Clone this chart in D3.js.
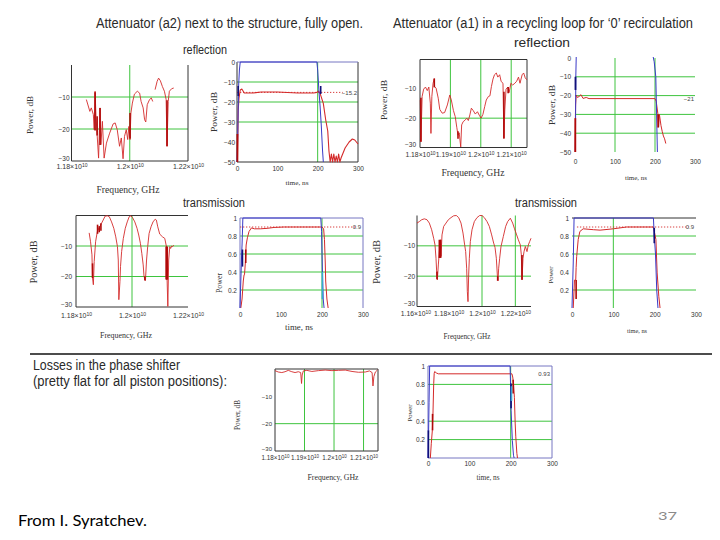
<!DOCTYPE html>
<html>
<head>
<meta charset="utf-8">
<script src="https://cdn.jsdelivr.net/npm/d3@7/dist/d3.min.js"></script>
<style>
html,body{margin:0;padding:0;background:#fff;}
svg{display:block;}
</style>
</head>
<body>
<svg id="chart" width="720" height="540"></svg>
<script>
// ================= DATA =================
const titleLeft = "Attenuator (a2) next to the structure, fully open.";
const titleRight = "Attenuator (a1) in a recycling loop for \u20180\u2019 recirculation";
const headReflection = "reflection";
const headTransmission = "transmission";
const lossesLine1 = "Losses in the phase shifter";
const lossesLine2 = "(pretty flat for all piston positions):";
const footerSource = "From I. Syratchev.";
const pageNumber = "37";

// tick values / labels
const freqTicksA = [11.8, 12.0, 12.2];
const freqLabelsA = ["1.18\u00d710^10", "1.2\u00d710^10", "1.22\u00d710^10"];
const freqTicksB = [11.8, 11.9, 12.0, 12.1];
const freqLabelsB = ["1.18\u00d710^10", "1.19\u00d710^10", "1.2\u00d710^10", "1.21\u00d710^10"];
const freqTicksC = [11.6, 11.8, 12.0, 12.2];
const freqLabelsC = ["1.16\u00d710^10", "1.18\u00d710^10", "1.2\u00d710^10", "1.22\u00d710^10"];
const timeTicks = [0, 100, 200, 300];
const timeLabels = ["0", "100", "200", "300"];
const dbTicks30 = [-10, -20, -30];
const dbLabels30 = ["\u221210", "\u221220", "\u221230"];
const dbTicks50 = [0, -10, -20, -30, -40, -50];
const dbLabels50 = ["0", "\u221210", "\u221220", "\u221230", "\u221240", "\u221250"];
const linTicks = [1, 0.8, 0.6, 0.4, 0.2];
const linLabels = ["1", "0.8", "0.6", "0.4", "0.2"];

// (1) a2 reflection vs frequency
const a2ReflFreqGHz = [11.851,11.863,11.868,11.875,11.878,11.881,11.884,11.888,11.893,11.898,11.901,11.906,11.912,11.920,11.931,11.943,11.950,11.957,11.965,11.971,11.977,11.982,11.988,11.993,11.997,12.001,12.004,12.009,12.016,12.026,12.034,12.039,12.046,12.051,12.055,12.060,12.068,12.074,12.079,12.083,12.087,12.094,12.099,12.105,12.112,12.119,12.125,12.128,12.132,12.136,12.144,12.151];
const a2ReflFreqDb = [-10.8,-14.5,-13.4,-15.5,-20.2,-8.2,-16.0,-21.8,-29.1,-13.4,-24.9,-17.6,-29.1,-24.4,-21.3,-18.4,-18.1,-20.2,-25.4,-22.8,-29.3,-22.3,-20.2,-23.3,-19.2,-23.3,-15.0,-11.9,-9.1,-8.2,-8.8,-11.4,-13.4,-17.1,-17.8,-12.4,-10.8,-10.3,-11.4,null,-7.7,-5.1,-4.1,-4.9,-6.7,-8.2,-10.8,-25.4,-11.4,-8.2,-7.4,-7.2];
const a2ReflFreqSpikes = [[11.881,-8.5,-20.5],[11.898,-13.4,-25],[11.888,-16,-22],[12.001,-15,-23],[12.128,-11,-25.4]];

// (2) a2 reflection vs time
const a2ReflTimeNs = [1,2,3,5,8,12,18,40,60,100,150,190,198,202,206,214,220,225,228,231,234,237,240,243,246,249,252,255,258,262,268,278,286,292,300];
const a2ReflTimeDb = [-50,-40,-24,-18,-14,-13.5,-15.5,-15.5,-15,-15,-15.5,-15.5,-15.2,-14.5,-15.7,-20.7,-29,-34.5,-44.5,-50,-46,-50,-46,-50,-47,-50,-46,-50,-48,-46,-43,-40,-38.5,-39,-41];
const a2ReflPulseNs = [0,2,4,6,8,198,200,203,206,209,212,214];
const a2ReflPulseDb = [-50,-35,-12,-4,0,0,-4,-14,-22,-32,-44,-50];
const a2ReflDarkRed = [[1,-50,-36]];
const a2ReflDarkBlue = [[3,-17,-12],[207.5,-16,-12]];
const a2ReflLevel = -15.2;
const a2ReflLevelLabel = "\u221215.2";

// (3) a1 reflection vs frequency
const a1ReflFreqGHz = [11.801,11.803,11.807,11.812,11.818,11.824,11.829,11.834,11.836,11.839,11.843,11.847,11.848,11.853,11.860,11.865,11.873,11.881,11.890,11.898,11.903,11.910,11.916,11.921,11.925,11.929,11.934,11.937,11.942,11.949,11.954,11.959,11.964,11.969,11.975,11.982,11.989,11.995,12.001,12.007,12.013,12.018,12.025,12.030,12.035,12.040,12.045,12.051,12.056,12.062,12.067,12.073,12.076,12.079,12.083,12.089,12.093,12.099,12.105,12.112,12.118,12.124,12.129,12.136,12.141,12.146,12.151];
const a1ReflFreqDb = [-13.8,-28.0,-12.6,-10.1,-9.4,-10.6,-9.4,-14.9,-25.2,-12.6,-8.1,-6.5,-9.2,-9.8,-13.2,-17.0,-18.3,-18.1,-15.5,-12.1,-13.8,-17.4,-19.5,-23.1,-25.8,-25.0,-29.8,-22.3,-21.2,-20.6,-20.0,-20.8,-18.9,-16.6,-17.4,-18.6,-17.8,-19.0,-20.0,-18.7,-16.0,-13.8,-12.6,-12.4,-9.2,-6.7,-5.2,-4.6,-6.0,-5.2,-7.5,-8.1,-26.9,-17.2,-10.1,-9.4,-11.3,-8.1,-8.7,-8.1,-7.4,-6.0,-8.1,-5.2,-4.6,-6.2,-6.9];
const a1ReflFreqSpikes = [[11.803,-13,-28],[11.847,-6.5,-9.5],[11.925,-24.5,-27],[12.076,-11,-26.9],[12.090,-9.4,-11.5]];

// (4) a1 reflection vs time
const a1ReflTimeNs = [0,1,1.5,3,6,10,15,20,28,35,100,200,203,207,209,211,213,215,218,221,224,227];
const a1ReflTimeDb = [-50,-32,-25,-19.7,-21,-20.5,-19.5,-21.5,-21,-21.6,-21.6,-21.6,-23,-29.4,-36.5,-30,-33,-36,-39,-41.5,-43,-45.5];
const a1ReflPulseNs = [1,2,3.5,194,198,202,204,206];
const a1ReflPulseDb = [-50,-10,5,2,-2,-10,-30,-50];
const a1ReflDarkRed = [[0.8,-50,-32],[208,-30,-37]];
const a1ReflDarkBlue = [[1.2,-17,-10]];
const a1ReflLevel = -21.6;
const a1ReflLevelLabel = "\u221221";

// (5) a2 transmission vs frequency
const a2TransFreqGHz = [11.847,11.852,11.857,11.859,11.862,11.865,11.870,11.874,11.877,11.885,11.891,11.897,11.904,11.912,11.919,11.927,11.935,11.942,11.948,11.951,11.953,11.957,11.959,11.963,11.969,11.976,11.983,11.990,11.996,12.002,12.010,12.018,12.024,12.030,12.035,12.040,12.043,12.048,12.052,12.056,12.061,12.068,12.075,12.083,12.087,12.092,12.099,12.109,12.117,12.123,12.125,12.128,12.131,12.135,12.138,12.142,12.145,12.149];
const a2TransFreqDb = [-5.7,-8.6,-12.9,-20.5,-22.7,-15.1,-8.6,-6.4,-5.0,-3.7,-2.6,-1.5,-0.2,-0.1,-0.4,-2.1,-4.2,-7.0,-10.2,-14.6,-27.6,-21.6,-16.7,-11.8,-7.5,-4.2,-2.1,-0.4,-0.1,-0.7,-2.1,-4.2,-6.4,-9.1,-12.4,-16.2,-20.0,-21.3,-14.6,-10.2,-5.9,-3.7,-2.1,-1.2,-1.5,-3.7,-6.1,-7.0,-7.5,-10.2,-20.0,-29.8,-14.6,-10.2,-10.8,-10.0,-10.2,-9.7];
const a2TransFreqSpikes = [[11.859,-15.7,-20.5],[11.877,-3,-6],[11.883,-3.5,-5.5],[11.889,-2.5,-5],[12.046,-20,-21.3],[12.122,-10.2,-21],[12.124,-10.2,-21],[12.126,-10.2,-21]];

// (6) a2 transmission vs time
const a2TransTimeNs = [2,5,8,10,11,13,15,18,22,28,35,50,66,83,107,200,204,206,208,209,212,215];
const a2TransTimePow = [0,0.1,0.3,0.37,0.37,0.5,0.7,0.78,0.85,0.89,0.88,0.88,0.885,0.895,0.9,0.9,0.88,0.76,0.5,0.3,0.1,0];
const a2TransPulseNs = [0,2,4,5,7,197,199,201,203,205];
const a2TransPulsePow = [0,0.3,0.6,0.7,1,1,0.85,0.4,0.1,0];
const a2TransDarkRed = [[14,0.5,0.65]];
const a2TransDarkBlue = [[6,0.46,0.65]];
const a2TransCyan = [[201,0.1,0.4]];
const a2TransLevel = 0.9;
const a2TransLevelLabel = "0.9";

// (7) a1 transmission vs frequency
const a1TransFreqGHz = [11.610,11.624,11.638,11.654,11.670,11.684,11.698,11.710,11.718,11.724,11.728,11.732,11.738,11.744,11.750,11.754,11.760,11.770,11.784,11.798,11.814,11.830,11.846,11.860,11.874,11.886,11.896,11.902,11.908,11.912,11.916,11.920,11.924,11.930,11.940,11.954,11.970,11.986,12.000,12.014,12.030,12.044,12.058,12.070,12.078,12.086,12.092,12.096,12.100,12.106,12.114,12.128,12.142,12.154,12.170,12.184,12.194,12.208,12.218,12.230,12.236,12.240,12.246,12.252,12.260,12.270,12.278,12.286,12.294];
const a1TransFreqDb = [-2.5,-2.0,-1.4,-1.1,-1.4,-2.5,-4.7,-7.5,-9.7,-14.1,-18.5,-21.2,-16.3,-11.9,-8.0,-13.5,-6.4,-3.6,-2.5,-1.4,-0.7,-0.1,0,-0.7,-2.5,-5.8,-9.7,-11.9,-17.4,-25.1,-28.4,-19.6,-14.1,-8.6,-4.7,-2.0,-0.7,0,0,-0.7,-2.0,-3.6,-6.4,-9.1,-10.5,-14.1,-19.6,-21.5,-17.4,-14.1,-10.2,-6.9,-3.6,-2.0,-0.9,-2.5,-4.2,-6.4,-8.0,-9.7,-13.0,-21.2,-14.1,-11.9,-10.2,-11.9,-9.7,-8.6,-7.5];
const a1TransFreqSpikes = [[11.744,-8,-14],[11.752,-8,-14],[11.730,-18.5,-21],[12.094,-20,-21.5],[12.240,-13,-21.2]];

// (8) a1 transmission vs time
const a1TransTimeNs = [3,5,6,9,10,11.3,15,19,27,52,68,100,132,197,203,206,210,213];
const a1TransTimePow = [0,0.2,0.31,0.31,0.45,0.57,0.76,0.85,0.88,0.87,0.865,0.88,0.9,0.9,0.76,0.39,0.13,0];
const a1TransPulseNs = [0,3,5,197,199,202,205,208];
const a1TransPulsePow = [0,0.5,1,1,0.8,0.6,0.2,0];
const a1TransDarkRed = [[10,0.1,0.31]];
const a1TransDarkBlue = [[199,0.72,0.89]];
const a1TransLevel = 0.9;
const a1TransLevelLabel = "0.9";

// (9) phase shifter losses vs frequency
const shifterFreqGHz = [11.800,11.811,11.823,11.834,11.845,11.857,11.868,11.879,11.887,11.890,11.892,11.896,11.908,11.925,11.947,11.970,11.993,12.015,12.038,12.061,12.083,12.106,12.120,12.129,12.132,12.135,12.140,12.147];
const shifterFreqDb = [-0.6,-1.1,-1.3,-1.0,-0.5,-1.0,-1.3,-1.0,-1.3,-5.3,-2.2,-0.7,-0.5,-0.9,-0.6,-0.4,-0.6,-0.5,-0.4,-0.9,-1.2,-1.1,-0.7,-1.3,-6.2,-2.8,-1.1,-0.4];

// (10) phase shifter vs time
const shifterTimeNs = [5.7,8,10.5,12,13.8,15,16.2,20,25,200,203,205,207,209,211,212.4,215,216.5];
const shifterTimePow = [0,0.16,0.3,0.48,0.81,0.92,0.94,0.925,0.915,0.915,0.915,0.88,0.81,0.66,0.37,0.23,0.05,0];
const shifterPulseNs = [0,1.5,2.5,4,198.6,200,201,204,206.8,208.4];
const shifterPulsePow = [0,0.3,0.6,1,1,0.75,0.52,0.19,0.03,0];
const shifterDarkRed = [[11,0.3,0.48],[206,0.7,0.85]];
const shifterDarkBlue = [[1,0,0.3],[201,0.54,0.81]];
const shifterCyan = [[202,0.62,0.78]];
const shifterLevel = 0.915;
const shifterLevelLabel = "0.93";

// ================= DRAWING =================
const RED = "#d42a2a", DARKRED = "#b00a0a", BLUE = "#3a3ac8", DARKBLUE = "#10107a",
      CYAN = "#3aa6d4", GREEN = "#3ec43e", INK = "#333", PFRAME = "#7777c2";

const svg = d3.select("#chart");
svg.append("rect").attr("width", 720).attr("height", 540).attr("fill", "#fff");
const defs = svg.append("defs");

function supLabel(sel, str, supSize) {
  const parts = String(str).split("^");
  sel.text(null);
  sel.append("tspan").text(parts[0]);
  if (parts.length > 1) sel.append("tspan").attr("dy", "-0.45em").attr("font-size", supSize).text(parts[1]);
}

function panel(c) {
  const [L, R, T, B] = c.box;
  const x = d3.scaleLinear().domain(c.xDomain).range([L, R]);
  const y = d3.scaleLinear().domain(c.yDomain).range([B, T]);
  const g = svg.append("g").attr("class", "panel-" + c.id);
  const cid = "clip-" + c.id;
  defs.append("clipPath").attr("id", cid).append("rect")
    .attr("x", L - 1).attr("y", T - 1).attr("width", R - L + 2).attr("height", B - T + 2);

  g.append("g").selectAll("line").data(c.hGrid).join("line")
    .attr("x1", L).attr("x2", R).attr("y1", d => y(d)).attr("y2", d => y(d))
    .attr("stroke", GREEN).attr("stroke-width", 1);
  g.append("g").selectAll("line").data(c.vGrid).join("line")
    .attr("x1", d => x(d)).attr("x2", d => x(d)).attr("y1", T).attr("y2", B)
    .attr("stroke", GREEN).attr("stroke-width", 1);

  const sides = {left: [L, T, L, B], right: [R, T, R, B], top: [L, T, R, T], bottom: [L, B, R, B]};
  Object.entries(c.frame || {}).forEach(([k, col]) => {
    const s = sides[k];
    g.append("line").attr("x1", s[0]).attr("y1", s[1]).attr("x2", s[2]).attr("y2", s[3])
      .attr("stroke", col).attr("stroke-width", 1);
  });

  if (c.ref) {
    if (c.ref.dotted) {
      g.append("line").attr("x1", x(c.ref.from)).attr("x2", x(c.ref.to))
        .attr("y1", y(c.ref.value)).attr("y2", y(c.ref.value))
        .attr("stroke", RED).attr("stroke-width", 0.9).attr("stroke-dasharray", "1.3,1.7");
    }
    g.append("text").attr("x", c.ref.lx).attr("y", y(c.ref.value) + 2.2)
      .attr("font-family", "Liberation Sans").attr("font-size", 6).attr("fill", "#444")
      .attr("text-anchor", "end").text(c.ref.label);
  }

  const line = d3.line()
    .defined(d => d[1] !== null && !isNaN(d[1]))
    .x(d => x(d[0])).y(d => y(d[1]));
  (c.series || []).forEach(s => {
    g.append("path").attr("d", line(d3.zip(s.x, s.y)))
      .attr("fill", "none").attr("stroke", s.color).attr("stroke-width", s.w || 1)
      .attr("stroke-linejoin", "round").attr("clip-path", `url(#${cid})`);
  });
  (c.spikes || []).forEach(s => {
    g.append("g").selectAll("line").data(s.data).join("line")
      .attr("x1", d => x(d[0])).attr("x2", d => x(d[0]))
      .attr("y1", d => y(d[1])).attr("y2", d => y(d[2]))
      .attr("stroke", s.color).attr("stroke-width", s.w || 1.6);
  });

  // axes
  const xAxis = d3.axisBottom(x).tickValues(c.xTicks).tickSize(0).tickPadding(c.xPad).tickFormat(() => "");
  const gx = g.append("g").attr("transform", `translate(0,${B})`).call(xAxis);
  gx.select(".domain").remove();
  gx.attr("font-family", "Liberation Sans").attr("font-size", c.xFont);
  gx.selectAll(".tick text").attr("fill", INK)
    .each(function (d, i) { supLabel(d3.select(this), c.xLabels[i], c.xFont * 0.72); });

  const yAxis = d3.axisLeft(y).tickValues(c.yTicks).tickSize(0).tickPadding(c.yPad).tickFormat((d, i) => c.yLabels[i]);
  const gy = g.append("g").attr("transform", `translate(${L},0)`).call(yAxis);
  gy.select(".domain").remove();
  gy.attr("font-family", "Liberation Sans").attr("font-size", c.yFont);
  gy.selectAll(".tick text").attr("fill", INK);
  if (c.liftBottom) {
    const bottomVal = c.yDomain[0];
    gy.selectAll(".tick").filter(d => d === bottomVal).select("text").attr("dy", "-0.1em");
  }

  const yt = c.yTitle;
  g.append("text").attr("transform", `translate(${yt.x},${yt.y}) rotate(-90)`)
    .attr("text-anchor", "middle").attr("font-family", "Liberation Serif")
    .attr("font-size", yt.size).attr("fill", INK)
    .attr("textLength", yt.len).attr("lengthAdjust", "spacingAndGlyphs").text(yt.text);
  const xt = c.xTitle;
  g.append("text").attr("x", xt.x).attr("y", xt.y)
    .attr("text-anchor", "middle").attr("font-family", "Liberation Serif")
    .attr("font-size", xt.size).attr("fill", INK)
    .attr("textLength", xt.len).attr("lengthAdjust", "spacingAndGlyphs").text(xt.text);
}

function text(str, x, y, size, len, opts = {}) {
  const t = svg.append("text").attr("x", x).attr("y", y)
    .attr("font-family", opts.family || "Liberation Sans").attr("font-size", size)
    .attr("fill", opts.fill || "#2a2a2a").text(str);
  if (len) t.attr("textLength", len).attr("lengthAdjust", "spacingAndGlyphs");
  return t;
}

// headings
text(titleLeft, 96, 28, 14, 267);
text(titleRight, 393, 28, 14, 300);
text(headReflection, 183, 54, 12, 44);
text(headReflection, 514, 47, 12, 56);
text(headTransmission, 183, 207, 12, 62);
text(headTransmission, 515, 207, 12, 62);
text(lossesLine1, 33, 370, 14, 147);
text(lossesLine2, 33, 386, 14, 194);
text(footerSource, 18, 526, 15, 129, {family: "Lato", fill: "#000"});
text(pageNumber, 658, 520, 12, 19, {family: "Lato", fill: "#8a8a8a"});
svg.append("line").attr("x1", 30).attr("x2", 712).attr("y1", 354).attr("y2", 354)
  .attr("stroke", "#111").attr("stroke-width", 1.4);

const TS = (txt, x, y, size, len) => ({text: txt, x, y, size, len});

// (1)
panel({id: "p1", box: [71.5, 188, 65, 161], xDomain: [11.8, 12.2], yDomain: [-30, 0],
  hGrid: [-10, -20], vGrid: [12.0], frame: {left: INK, bottom: INK, right: INK},
  series: [{x: a2ReflFreqGHz, y: a2ReflFreqDb, color: RED, w: 0.9}],
  spikes: [{data: a2ReflFreqSpikes, color: DARKRED, w: 1.6}],
  xTicks: freqTicksA, xLabels: freqLabelsA, xPad: 3.5, xFont: 7, liftBottom: true,
  yTicks: dbTicks30, yLabels: dbLabels30, yPad: 2, yFont: 6.5,
  yTitle: TS("Power, dB", 33, 115, 9, 38), xTitle: TS("Frequency, GHz", 128, 193, 9.5, 63)});

// (2)
panel({id: "p2", box: [237, 358, 62, 162], xDomain: [0, 300], yDomain: [-50, 0],
  hGrid: [-10, -20, -30], vGrid: [200], frame: {left: INK, bottom: INK, right: INK, top: PFRAME},
  ref: {value: a2ReflLevel, from: 0, to: 262, dotted: true, lx: 357, label: a2ReflLevelLabel},
  series: [{x: a2ReflTimeNs, y: a2ReflTimeDb, color: RED, w: 1.1},
           {x: a2ReflPulseNs, y: a2ReflPulseDb, color: BLUE, w: 1}],
  spikes: [{data: a2ReflDarkRed, color: DARKRED, w: 1.8}, {data: a2ReflDarkBlue, color: DARKBLUE, w: 1.6}],
  xTicks: timeTicks, xLabels: timeLabels, xPad: 4, xFont: 6.5,
  yTicks: dbTicks50, yLabels: dbLabels50, yPad: 2, yFont: 6.5,
  yTitle: TS("Power, dB", 217, 112, 9, 40), xTitle: TS("time, ns", 297, 185, 7, 23)});

// (3)
panel({id: "p3", box: [420, 527, 59.5, 147.5], xDomain: [11.8, 12.152], yDomain: [-30, 0],
  hGrid: [-20], vGrid: [11.9, 12.0, 12.1], frame: {left: INK, bottom: INK, right: INK, top: INK},
  series: [{x: a1ReflFreqGHz, y: a1ReflFreqDb, color: RED, w: 0.9}],
  spikes: [{data: a1ReflFreqSpikes, color: DARKRED, w: 1.6}],
  xTicks: freqTicksB, xLabels: freqLabelsB, xPad: 4.5, xFont: 6.8, liftBottom: true,
  yTicks: dbTicks30, yLabels: dbLabels30, yPad: 4, yFont: 6.5,
  yTitle: TS("Power, dB", 387, 100, 9, 40), xTitle: TS("Frequency, GHz", 473, 176, 9.5, 63)});

// (4)
panel({id: "p4", box: [575, 695, 58, 152], xDomain: [0, 300], yDomain: [-50, 0],
  hGrid: [-10, -20, -30, -40], vGrid: [100, 200], frame: {},
  ref: {value: a1ReflLevel, from: 0, to: 0, dotted: false, lx: 694, label: a1ReflLevelLabel},
  series: [{x: a1ReflTimeNs, y: a1ReflTimeDb, color: RED, w: 1},
           {x: a1ReflPulseNs, y: a1ReflPulseDb, color: BLUE, w: 1}],
  spikes: [{data: a1ReflDarkRed, color: DARKRED, w: 1.8}, {data: a1ReflDarkBlue, color: DARKBLUE, w: 1.8}],
  xTicks: timeTicks, xLabels: timeLabels, xPad: 7, xFont: 6.5,
  yTicks: dbTicks50, yLabels: dbLabels50, yPad: 4, yFont: 6.5,
  yTitle: TS("Power, dB", 555, 105, 9, 40), xTitle: TS("time, ns", 636, 180, 7, 22)});

// (5)
panel({id: "p5", box: [76, 188, 215.5, 307], xDomain: [11.8, 12.2], yDomain: [-30, 0],
  hGrid: [-10, -20], vGrid: [12.0], frame: {left: INK, bottom: INK, top: INK},
  series: [{x: a2TransFreqGHz, y: a2TransFreqDb, color: RED, w: 0.9}],
  spikes: [{data: a2TransFreqSpikes, color: DARKRED, w: 1.6}],
  xTicks: freqTicksA, xLabels: freqLabelsA, xPad: 6, xFont: 7, liftBottom: true,
  yTicks: dbTicks30, yLabels: dbLabels30, yPad: 4, yFont: 6.5,
  yTitle: TS("Power, dB", 37, 262, 10, 43), xTitle: TS("Frequency, GHz", 126, 338, 8.5, 52)});

// (6)
panel({id: "p6", box: [240, 363, 218, 308], xDomain: [0, 300], yDomain: [0, 1],
  hGrid: [0.8, 0.6, 0.4, 0.2], vGrid: [200], frame: {left: PFRAME, right: PFRAME, top: PFRAME},
  ref: {value: a2TransLevel, from: 0, to: 285, dotted: true, lx: 361, label: a2TransLevelLabel},
  series: [{x: a2TransTimeNs, y: a2TransTimePow, color: RED, w: 1},
           {x: a2TransPulseNs, y: a2TransPulsePow, color: BLUE, w: 1}],
  spikes: [{data: a2TransDarkRed, color: DARKRED, w: 1.6}, {data: a2TransDarkBlue, color: DARKBLUE, w: 1.6},
           {data: a2TransCyan, color: CYAN, w: 1.6}],
  xTicks: timeTicks, xLabels: timeLabels, xPad: 4, xFont: 6.5,
  yTicks: linTicks, yLabels: linLabels, yPad: 3, yFont: 6.5,
  yTitle: TS("Power", 222, 283, 7.5, 20), xTitle: TS("time, ns", 299, 330, 8.5, 28)});

// (7)
panel({id: "p7", box: [417, 531, 215.5, 306.5], xDomain: [11.61, 12.294], yDomain: [-30, 0],
  hGrid: [-10, -20], vGrid: [12.0, 12.2], frame: {left: INK, bottom: INK},
  series: [{x: a1TransFreqGHz, y: a1TransFreqDb, color: RED, w: 0.9}],
  spikes: [{data: a1TransFreqSpikes, color: DARKRED, w: 1.6}],
  xTicks: freqTicksC, xLabels: freqLabelsC, xPad: 5, xFont: 6.8, liftBottom: true,
  yTicks: dbTicks30, yLabels: dbLabels30, yPad: 2, yFont: 6.5,
  yTitle: TS("Power, dB", 380, 262, 10, 44), xTitle: TS("Frequency, GHz", 467, 339, 8, 47)});

// (8)
panel({id: "p8", box: [572, 696, 218, 308], xDomain: [0, 300], yDomain: [0, 1],
  hGrid: [0.8, 0.6, 0.2], vGrid: [100], frame: {top: INK},
  ref: {value: a1TransLevel, from: 12, to: 282, dotted: true, lx: 694, label: a1TransLevelLabel},
  series: [{x: a1TransTimeNs, y: a1TransTimePow, color: RED, w: 1},
           {x: a1TransPulseNs, y: a1TransPulsePow, color: BLUE, w: 1}],
  spikes: [{data: a1TransDarkRed, color: DARKRED, w: 1.6}, {data: a1TransDarkBlue, color: DARKBLUE, w: 1.6}],
  xTicks: timeTicks, xLabels: timeLabels, xPad: 4, xFont: 6.5,
  yTicks: linTicks, yLabels: linLabels, yPad: 3, yFont: 6.5,
  yTitle: TS("Power", 553, 275, 6.5, 17), xTitle: TS("time, ns", 637, 333, 6.5, 20)});

// (9)
panel({id: "p9", box: [275, 378, 369, 451], xDomain: [11.8, 12.149], yDomain: [-30, 0],
  hGrid: [-20], vGrid: [11.9, 12.0, 12.1], frame: {left: INK, bottom: INK, right: INK, top: INK},
  series: [{x: shifterFreqGHz, y: shifterFreqDb, color: RED, w: 0.9}],
  spikes: [],
  xTicks: freqTicksB, xLabels: freqLabelsB, xPad: 5, xFont: 6.3, liftBottom: true,
  yTicks: dbTicks30, yLabels: dbLabels30, yPad: 3, yFont: 6,
  yTitle: TS("Power, dB", 240, 415, 7.5, 30), xTitle: TS("Frequency, GHz", 333, 480, 8, 51)});

// (10)
panel({id: "p10", box: [428, 552, 366, 458], xDomain: [0, 300], yDomain: [0, 1],
  hGrid: [0.8, 0.4, 0.2], vGrid: [200], frame: {left: PFRAME, right: PFRAME, top: PFRAME, bottom: PFRAME},
  ref: {value: shifterLevel, from: 0, to: 0, dotted: false, lx: 550, label: shifterLevelLabel},
  series: [{x: shifterTimeNs, y: shifterTimePow, color: RED, w: 1},
           {x: shifterPulseNs, y: shifterPulsePow, color: BLUE, w: 1}],
  spikes: [{data: shifterDarkRed, color: DARKRED, w: 1.6}, {data: shifterDarkBlue, color: DARKBLUE, w: 1.6},
           {data: shifterCyan, color: CYAN, w: 1.6}],
  xTicks: timeTicks, xLabels: timeLabels, xPad: 3, xFont: 6.5,
  yTicks: linTicks, yLabels: linLabels, yPad: 3, yFont: 6.5,
  yTitle: TS("Power", 412, 413, 6.5, 17), xTitle: TS("time, ns", 488, 480, 7.5, 23)});
</script>
</body>
</html>
